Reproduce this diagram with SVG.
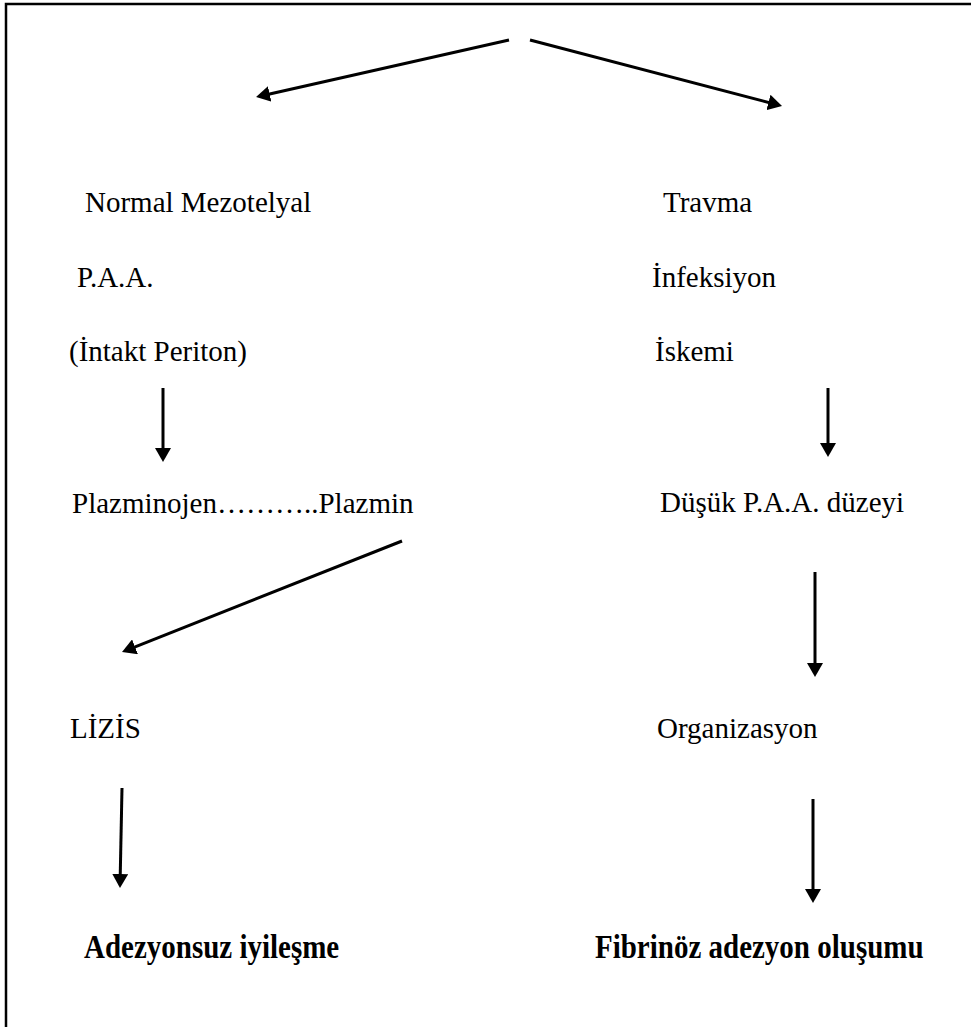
<svg xmlns="http://www.w3.org/2000/svg" width="971" height="1027" viewBox="0 0 971 1027">
<style>
.t{font-family:"Liberation Serif","Times New Roman",serif;font-size:29px;fill:#000}
.b{font-weight:bold}
.c{stroke:#000;stroke-width:3;fill:none;marker-end:url(#ah)}
</style>
<defs>
<marker id="ah" viewBox="0 0 14 16" refX="8" refY="8" markerWidth="14" markerHeight="16" markerUnits="userSpaceOnUse" orient="auto">
<path d="M0,0 L14,8 L0,16 z" fill="#000"/>
</marker>
</defs>
<rect width="971" height="1027" fill="#fff"/>
<path d="M6,1027 V4 H971" stroke="#000" stroke-width="2.5" fill="none"/>
<g id="connectors">
<line class="c" x1="509" y1="40" x2="261.9" y2="95.7"/>
<line class="c" x1="530" y1="40" x2="776.2" y2="104.5"/>
<line class="c" x1="163" y1="388" x2="163" y2="456"/>
<line class="c" x1="828" y1="388" x2="828" y2="451"/>
<line class="c" x1="402" y1="541" x2="127.6" y2="649.8"/>
<line class="c" x1="122" y1="788" x2="120.1" y2="882"/>
<line class="c" x1="815" y1="572" x2="815" y2="671"/>
<line class="c" x1="813" y1="799" x2="813" y2="897"/>
</g>
<g id="n-normal"><text class="t" x="85" y="212">Normal Mezotelyal</text></g>
<g id="n-paa"><text class="t" x="77" y="287">P.A.A.</text></g>
<g id="n-intakt"><text class="t" x="69" y="361">(İntakt Periton)</text></g>
<g id="n-travma"><text class="t" x="663" y="212">Travma</text></g>
<g id="n-infeksiyon"><text class="t" x="652" y="287">İnfeksiyon</text></g>
<g id="n-iskemi"><text class="t" x="655" y="361">İskemi</text></g>
<g id="n-plazmin"><text class="t" x="72" y="513">Plazminojen………..Plazmin</text></g>
<g id="n-dusuk"><text class="t" x="660" y="512">Düşük P.A.A. düzeyi</text></g>
<g id="n-lizis"><text class="t" x="70" y="738">LİZİS</text></g>
<g id="n-organizasyon"><text class="t" x="657" y="738">Organizasyon</text></g>
<g id="n-adezyonsuz"><text class="t b" x="84" y="0" transform="translate(0,958) scale(1,1.18)">Adezyonsuz iyileşme</text></g>
<g id="n-fibrinoz"><text class="t b" x="595" y="0" transform="translate(0,958) scale(1,1.18)">Fibrinöz adezyon oluşumu</text></g>
</svg>
